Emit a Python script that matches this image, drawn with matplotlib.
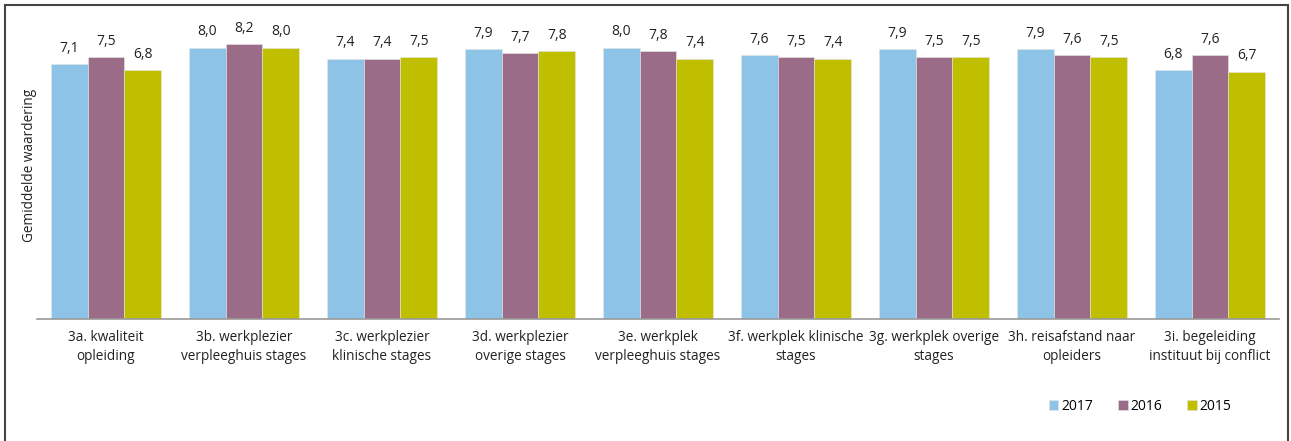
import matplotlib.pyplot as plt
import numpy as np
from matplotlib.patches import Rectangle

plt.rcParams['font.family'] = ['Open Sans', 'DejaVu Sans']

# data
categories = ["3a. kwaliteit\nopleiding",
              "3b. werkplezier\nverpleeghuis stages",
              "3c. werkplezier\nklinische stages",
              "3d. werkplezier\noverige stages",
              "3e. werkplek\nverpleeghuis stages",
              "3f. werkplek klinische\nstages",
              "3g. werkplek overige\nstages",
              "3h. reisafstand naar\nopleiders",
              "3i. begeleiding\ninstituut bij conflict"]
years = ["2017", "2016", "2015"]
v2017 = [7.1, 8.0, 7.4, 7.9, 8.0, 7.6, 7.9, 7.9, 6.8]
v2016 = [7.5, 8.2, 7.4, 7.7, 7.8, 7.5, 7.5, 7.6, 7.6]
v2015 = [6.8, 8.0, 7.5, 7.8, 7.4, 7.4, 7.5, 7.5, 6.7]
colors = ["#8DC3E6", "#9B6C88", "#BFBF00"]

ymin, ymax = -6.66, 9.5

fig = plt.figure(figsize=(12.91, 4.41), dpi=100)
ax = fig.add_axes([0.0287, 0.276, 0.962, 0.679])

x = np.arange(len(categories))
w = 0.8 / 3
for i, (vals, lab) in enumerate(zip([v2017, v2016, v2015], years)):
    pos = x - w + i * w
    heights = [v - ymin for v in vals]
    bars = ax.bar(pos, heights, bottom=ymin, width=w, color=colors[i],
                  label=lab, edgecolor="#e6e6e6", linewidth=0.4)
    for b, v in zip(bars, vals):
        ax.annotate(f"{v:.1f}".replace(".", ","),
                    (b.get_x() + b.get_width() / 2, v),
                    xytext=(0, 6), textcoords="offset points",
                    ha="center", va="bottom", fontsize=10, color="#222222")

ax.set_xlim(-0.5, len(categories) - 0.5)
ax.set_ylim(ymin, ymax)
ax.set_xticks(x)
ax.set_xticklabels(categories, fontsize=9.8, color="#222222", linespacing=1.3)
ax.tick_params(axis="x", length=0, pad=8)
ax.set_yticks([])
for s in ["top", "right", "left"]:
    ax.spines[s].set_visible(False)
ax.spines["bottom"].set_color("#999999")
ax.spines["bottom"].set_linewidth(1.2)

fig.text(0.023, 1 - 165 / 441, "Gemiddelde waardering", rotation=90,
         ha="center", va="center", fontsize=9.8, color="#222222")

ax.legend(loc="center", bbox_to_anchor=(1140 / 1291, 1 - 406 / 441),
          bbox_transform=fig.transFigure, ncol=3, frameon=False,
          fontsize=10, handlelength=0.7, handleheight=0.7,
          handletextpad=0.2, columnspacing=1.8)

# outer frame
fig.patches.append(Rectangle((5 / 1291, -0.05), 1283 / 1291, 1.05 - 5 / 441,
                             transform=fig.transFigure, fill=False,
                             edgecolor="#444444", linewidth=1.5))

fig.savefig("out.png", dpi=100)
